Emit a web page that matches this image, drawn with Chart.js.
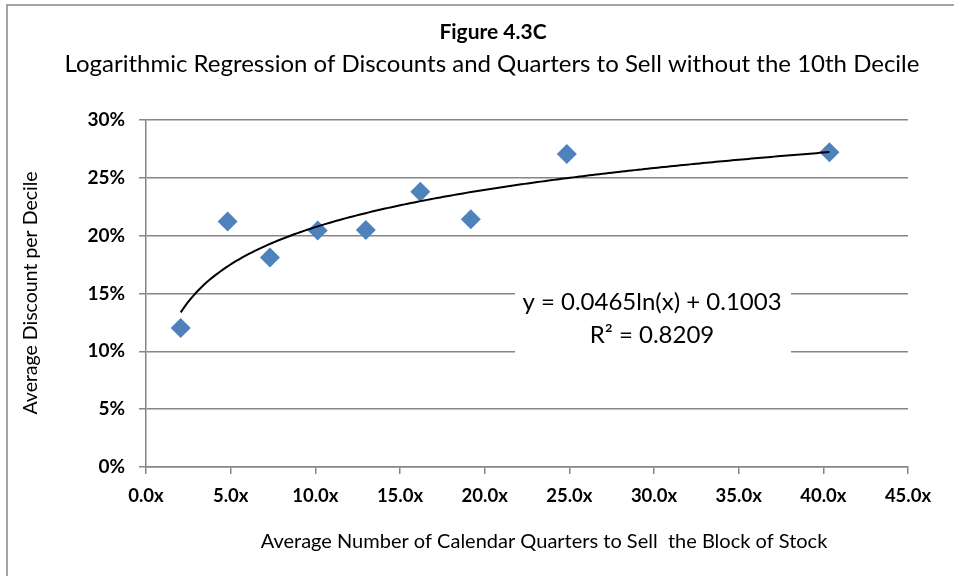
<!DOCTYPE html>
<html>
<head>
<meta charset="utf-8">
<script src="https://cdn.jsdelivr.net/npm/chart.js@4.4.1/dist/chart.umd.min.js"></script>
<style>
  html, body { margin: 0; padding: 0; background: #ffffff; }
  #wrap { width: 954px; height: 576px; position: relative; }
</style>
</head>
<body>
<div id="wrap"><canvas id="c" width="954" height="576"></canvas></div>
<script>
// ---- data ----
const quartersToSell = [2.05, 4.82, 7.32, 10.14, 12.98, 16.2, 19.18, 24.85, 40.36];
const avgDiscount    = [0.1201, 0.2123, 0.1812, 0.2045, 0.205, 0.238, 0.2143, 0.2705, 0.2722];
const xTickValues = [0, 5, 10, 15, 20, 25, 30, 35, 40, 45];
const yTickValues = [0, 0.05, 0.10, 0.15, 0.20, 0.25, 0.30];
const trendCoef = 0.0465;      // slope of ln(x)
const trendIntercept = 0.1003; // intercept
const trendR2 = 0.8209;
const titleText = 'Figure 4.3C';
const subtitleText = 'Logarithmic Regression of Discounts and Quarters to Sell without the 10th Decile';
const xTitleText = 'Average Number of Calendar Quarters to Sell  the Block of Stock';
const yTitleText = 'Average Discount per Decile';

const FONT = 'Lato, "Open Sans", sans-serif';
const GRID = '#868686';

const points = quartersToSell.map((x, i) => ({ x: x, y: avgDiscount[i] }));

const decorPlugin = {
  id: 'decor',
  beforeDraw(chart) {
    const ctx = chart.ctx;
    ctx.save();
    ctx.fillStyle = '#ffffff';
    ctx.fillRect(0, 0, chart.width, chart.height);
    ctx.strokeStyle = GRID;
    ctx.lineWidth = 1.5;
    ctx.strokeRect(7, 5, chart.width + 20, chart.height + 20);
    ctx.restore();
  },
  afterDatasetsDraw(chart) {
    const ctx = chart.ctx;
    const xs = chart.scales.x, ys = chart.scales.y;
    // logarithmic trendline over the data range
    const x0 = Math.min(...quartersToSell), x1 = Math.max(...quartersToSell);
    ctx.save();
    ctx.beginPath();
    const steps = 200;
    for (let i = 0; i <= steps; i++) {
      const xv = x0 + (x1 - x0) * i / steps;
      const yv = trendCoef * Math.log(xv) + trendIntercept;
      const px = xs.getPixelForValue(xv), py = ys.getPixelForValue(yv);
      if (i === 0) ctx.moveTo(px, py); else ctx.lineTo(px, py);
    }
    ctx.strokeStyle = '#000000';
    ctx.lineWidth = 2;
    ctx.stroke();
    ctx.restore();
  },
  afterDraw(chart) {
    const ctx = chart.ctx;
    ctx.save();
    // equation label with white background
    ctx.fillStyle = '#ffffff';
    ctx.fillRect(515, 283, 276, 71);
    ctx.fillStyle = '#000000';
    ctx.textAlign = 'center';
    ctx.textBaseline = 'middle';
    ctx.font = '24px ' + FONT;
    ctx.fillText('y = ' + trendCoef + 'ln(x) + ' + trendIntercept, 652, 302);
    ctx.fillText('R\u00B2 = ' + trendR2, 652, 335);
    // titles
    ctx.font = 'bold 21px ' + FONT;
    ctx.fillText(titleText, 493, 32);
    ctx.font = '24px ' + FONT;
    ctx.fillText(subtitleText, 492, 64);
    // axis titles
    ctx.font = '20px ' + FONT;
    ctx.fillText(xTitleText, 544, 542);
    ctx.font = '19.5px ' + FONT;
    ctx.translate(31, 293);
    ctx.rotate(-Math.PI / 2);
    ctx.fillText(yTitleText, 0, 0);
    ctx.restore();
  }
};

new Chart(document.getElementById('c'), {
  type: 'scatter',
  data: {
    datasets: [{
      label: 'Discount',
      data: points,
      pointStyle: 'rectRot',
      pointRadius: 10,
      pointHoverRadius: 10,
      backgroundColor: '#4F81BD',
      borderColor: '#4F81BD',
      borderWidth: 0
    }]
  },
  plugins: [decorPlugin],
  options: {
    responsive: false,
    animation: false,
    events: [],
    layout: { padding: { top: 120, right: 46, bottom: 0, left: 0 } },
    plugins: { legend: { display: false }, tooltip: { enabled: false }, title: { display: false } },
    scales: {
      x: {
        type: 'linear',
        min: 0, max: 45,
        afterFit(s) { s.height = 109; },
        afterBuildTicks(s) { s.ticks = xTickValues.map(v => ({ value: v })); },
        border: { display: true, color: GRID, width: 1.5 },
        grid: { drawOnChartArea: false, drawTicks: true, tickLength: 7, color: GRID, lineWidth: 1.5 },
        ticks: {
          padding: 11,
          color: '#000000',
          font: { family: FONT, size: 18.5, weight: 'bold' },
          callback: v => v.toFixed(1) + 'x'
        }
      },
      y: {
        type: 'linear',
        min: 0, max: 0.30,
        afterFit(s) { s.width = 146; },
        afterBuildTicks(s) { s.ticks = yTickValues.map(v => ({ value: v })); },
        border: { display: true, color: GRID, width: 1.5 },
        grid: { drawOnChartArea: true, drawTicks: true, tickLength: 7, color: GRID, lineWidth: 1.5 },
        ticks: {
          padding: 14,
          color: '#000000',
          font: { family: FONT, size: 19, weight: 'bold' },
          callback: v => Math.round(v * 100) + '%'
        }
      }
    }
  }
});
</script>
</body>
</html>
